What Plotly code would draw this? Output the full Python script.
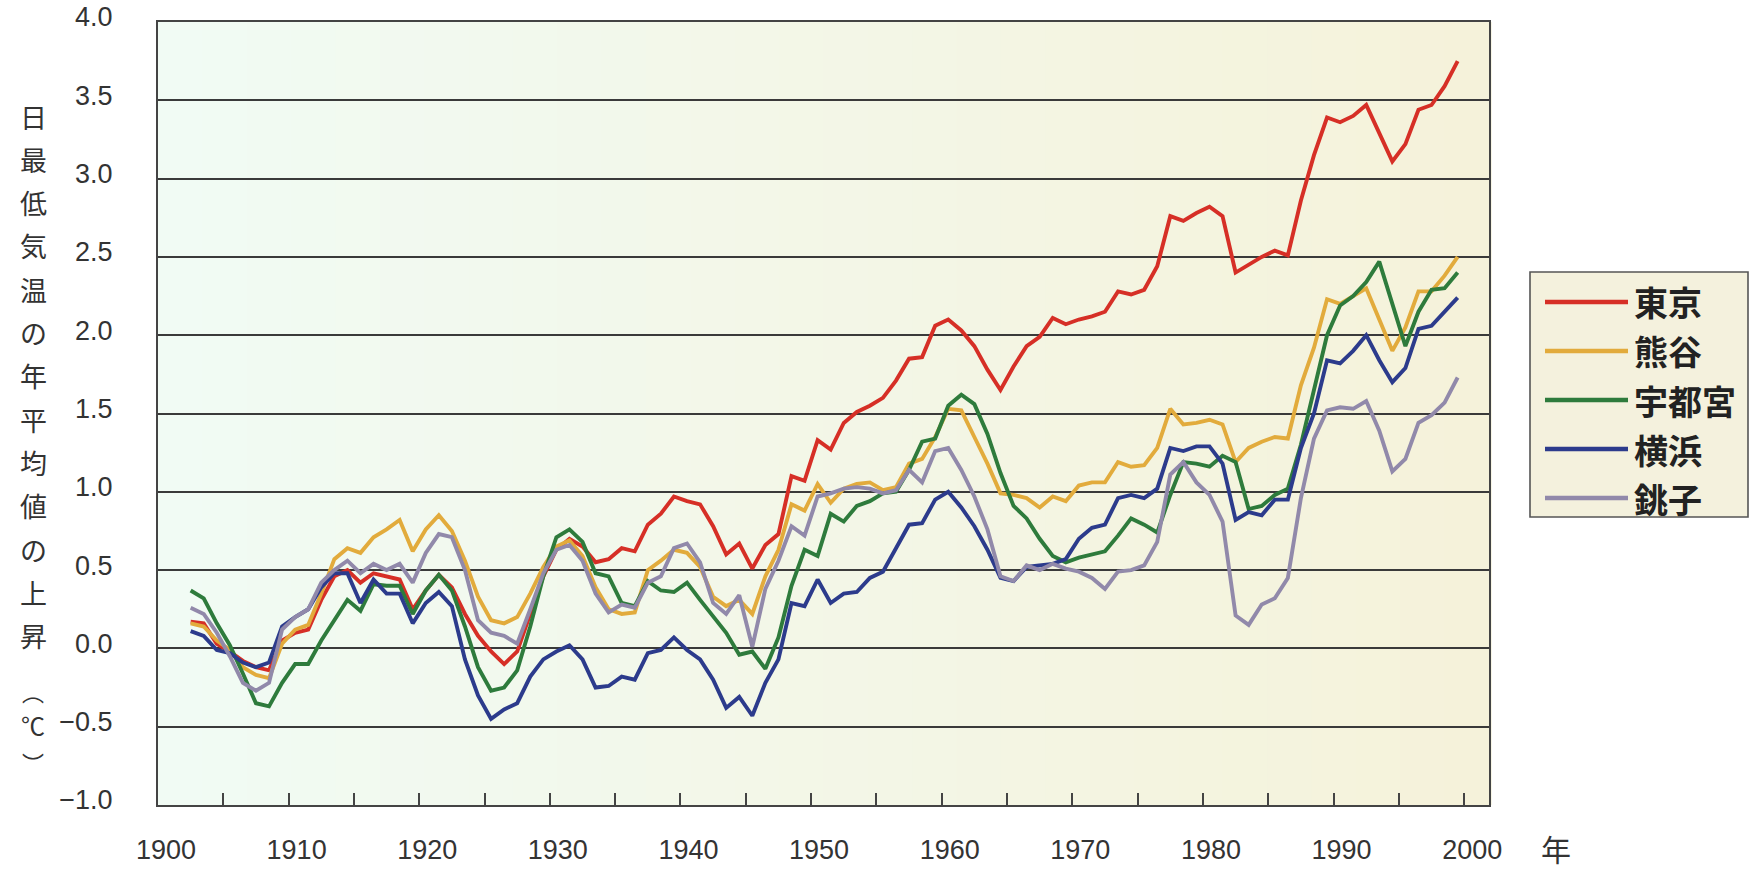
import plotly.graph_objects as go

# ---------------- data (5-year running means, deg C anomaly) ----------------
years = list(range(1902, 2000))

tokyo = [0.17, 0.16, 0.03, -0.02, -0.08, -0.12, -0.14, 0.05,
         0.10, 0.12, 0.31, 0.46, 0.50, 0.42, 0.48, 0.46, 0.44, 0.25,
         0.37, 0.47, 0.39, 0.22, 0.08, -0.02, -0.10, -0.02, 0.22, 0.46,
         0.63, 0.70, 0.65, 0.55, 0.57, 0.64, 0.62, 0.79, 0.86, 0.97,
         0.94, 0.92, 0.78, 0.60, 0.67, 0.51, 0.66, 0.73, 1.10, 1.07,
         1.33, 1.27, 1.44, 1.51, 1.55, 1.60, 1.71, 1.85, 1.86, 2.06,
         2.10, 2.03, 1.93, 1.78, 1.65, 1.80, 1.93, 1.99, 2.11, 2.07,
         2.10, 2.12, 2.15, 2.28, 2.26, 2.29, 2.44, 2.76, 2.73, 2.78,
         2.82, 2.76, 2.40, 2.45, 2.50, 2.54, 2.51, 2.86, 3.15, 3.39,
         3.36, 3.40, 3.47, 3.29, 3.11, 3.22, 3.44, 3.47, 3.59, 3.75]

kumagaya = [0.16, 0.14, 0.05, -0.01, -0.12, -0.17, -0.19, 0.03,
            0.12, 0.15, 0.35, 0.57, 0.64, 0.61, 0.71, 0.76, 0.82, 0.62,
            0.76, 0.85, 0.75, 0.56, 0.33, 0.18, 0.16, 0.20, 0.35, 0.52,
            0.65, 0.69, 0.59, 0.39, 0.25, 0.22, 0.23, 0.50, 0.56, 0.63,
            0.61, 0.52, 0.33, 0.27, 0.31, 0.22, 0.46, 0.63, 0.92, 0.88,
            1.05, 0.93, 1.02, 1.05, 1.06, 1.01, 1.03, 1.18, 1.21, 1.35,
            1.53, 1.52, 1.35, 1.18, 0.99, 0.98, 0.96, 0.90, 0.97, 0.94,
            1.04, 1.06, 1.06, 1.19, 1.16, 1.17, 1.28, 1.53, 1.43, 1.44,
            1.46, 1.43, 1.19, 1.28, 1.32, 1.35, 1.34, 1.68, 1.92, 2.23,
            2.20, 2.25, 2.30, 2.10, 1.90, 2.05, 2.28, 2.28, 2.38, 2.50]

utsunomiya = [0.37, 0.32, 0.16, 0.02, -0.16, -0.35, -0.37, -0.22,
              -0.10, -0.10, 0.05, 0.18, 0.31, 0.24, 0.41, 0.40, 0.40, 0.22,
              0.37, 0.47, 0.37, 0.14, -0.12, -0.27, -0.25, -0.14, 0.14, 0.46,
              0.71, 0.76, 0.68, 0.48, 0.46, 0.29, 0.27, 0.43, 0.37, 0.36,
              0.42, 0.31, 0.20, 0.10, -0.04, -0.02, -0.13, 0.07, 0.40, 0.63,
              0.59, 0.86, 0.81, 0.91, 0.94, 0.99, 1.00, 1.14, 1.32, 1.34,
              1.55, 1.62, 1.56, 1.37, 1.12, 0.91, 0.83, 0.70, 0.59, 0.55,
              0.58, 0.60, 0.62, 0.72, 0.83, 0.79, 0.74, 0.98, 1.19, 1.18,
              1.16, 1.23, 1.19, 0.89, 0.91, 0.98, 1.02, 1.30, 1.65, 2.00,
              2.19, 2.25, 2.34, 2.47, 2.20, 1.93, 2.15, 2.29, 2.30, 2.40]

yokohama = [0.11, 0.08, -0.01, -0.03, -0.09, -0.12, -0.09, 0.14,
            0.20, 0.25, 0.39, 0.48, 0.48, 0.29, 0.44, 0.35, 0.35, 0.16,
            0.29, 0.36, 0.27, -0.07, -0.30, -0.45, -0.39, -0.35, -0.18, -0.07,
            -0.02, 0.02, -0.07, -0.25, -0.24, -0.18, -0.20, -0.03, -0.01, 0.07,
            -0.01, -0.07, -0.20, -0.38, -0.31, -0.43, -0.22, -0.07, 0.29, 0.27,
            0.44, 0.29, 0.35, 0.36, 0.45, 0.49, 0.64, 0.79, 0.80, 0.95,
            1.00, 0.90, 0.78, 0.63, 0.45, 0.43, 0.52, 0.53, 0.54, 0.57,
            0.70, 0.77, 0.79, 0.96, 0.98, 0.96, 1.02, 1.28, 1.26, 1.29,
            1.29, 1.18, 0.82, 0.87, 0.85, 0.95, 0.95, 1.28, 1.50, 1.84,
            1.82, 1.90, 2.00, 1.84, 1.70, 1.79, 2.04, 2.06, 2.15, 2.24]

choshi = [0.26, 0.22, 0.10, -0.05, -0.22, -0.27, -0.22, 0.12,
          0.20, 0.25, 0.42, 0.50, 0.56, 0.48, 0.54, 0.50, 0.54, 0.42,
          0.61, 0.73, 0.71, 0.50, 0.18, 0.10, 0.08, 0.03, 0.25, 0.48,
          0.63, 0.66, 0.56, 0.35, 0.23, 0.28, 0.26, 0.42, 0.46, 0.64,
          0.67, 0.55, 0.29, 0.22, 0.34, 0.01, 0.38, 0.56, 0.78, 0.72,
          0.97, 0.99, 1.02, 1.03, 1.02, 0.99, 1.01, 1.14, 1.06, 1.26,
          1.28, 1.14, 0.97, 0.76, 0.46, 0.43, 0.53, 0.50, 0.54, 0.51,
          0.49, 0.45, 0.38, 0.49, 0.50, 0.53, 0.68, 1.11, 1.19, 1.06,
          0.98, 0.81, 0.21, 0.15, 0.28, 0.32, 0.45, 0.96, 1.34, 1.52,
          1.54, 1.53, 1.58, 1.39, 1.13, 1.21, 1.44, 1.49, 1.57, 1.73]

station_names = ["東京", "熊谷", "宇都宮", "横浜", "銚子"]
series = [tokyo, kumagaya, utsunomiya, yokohama, choshi]
line_colors = ["#d62f26", "#e2ab3c", "#2e7b3c", "#2c3b8c", "#9189aa"]

y_title = ["日", "最", "低", "気", "温", "の", "年", "平", "均", "値", "の", "上", "昇", "︵", "℃", "︶"]
x_unit = "年"

# ---------------- layout geometry (pixels) ----------------
W, H = 1750, 872
L, R, T, B = 158, 1489, 22, 805


def px_x(px):
    return (px - L) / (R - L)


def px_y(py):
    return (B - py) / (B - T)


fig = go.Figure()

# data plotted at mid-year
xs = [yr + 0.5 for yr in years]
for name, vals, col in zip(station_names, series, line_colors):
    fig.add_trace(go.Scatter(x=xs, y=vals, mode="lines", name=name,
                             line=dict(color=col, width=3.9),
                             showlegend=False, hoverinfo="x+y+name"))

shapes = []
# background gradient of plot area (mint on the left -> beige on the right)
c0 = (241, 251, 244)
c1 = (245, 242, 218)
n = 30
for i in range(n):
    t = i / (n - 1)
    col = tuple(int(round(c0[k] + (c1[k] - c0[k]) * t)) for k in range(3))
    shapes.append(dict(type="rect", xref="paper", yref="paper",
                       x0=i / n, x1=(i + 1) / n + 0.002, y0=0, y1=1,
                       fillcolor="rgb(%d,%d,%d)" % col, line=dict(width=0),
                       layer="below"))

# manual legend box
box_l, box_r, box_t, box_b = 1530, 1748, 272, 517
shapes.append(dict(type="rect", xref="paper", yref="paper",
                   x0=px_x(box_l), x1=px_x(box_r), y0=px_y(box_b), y1=px_y(box_t),
                   fillcolor="#f4f1dd", line=dict(color="#555555", width=1.6),
                   layer="above"))
annotations = []
row_y = [302, 351, 400, 449, 498]
for name, col, ry in zip(station_names, line_colors, row_y):
    shapes.append(dict(type="line", xref="paper", yref="paper",
                       x0=px_x(1545), x1=px_x(1628), y0=px_y(ry), y1=px_y(ry),
                       line=dict(color=col, width=4.5), layer="above"))
    annotations.append(dict(text=name, xref="paper", yref="paper",
                            x=px_x(1632), y=px_y(ry), xanchor="left", yanchor="middle",
                            showarrow=False,
                            font=dict(family="Noto Sans CJK JP", size=34, color="#222222",
                                      weight="bold")))

# vertical y-axis title, one character per row
title_y = [116 + 43.3 * i for i in range(13)] + [691, 724, 762]
title_size = [27] * 13 + [22, 24, 22]
for ch, ty, fs in zip(y_title, title_y, title_size):
    annotations.append(dict(text=ch, xref="paper", yref="paper",
                            x=px_x(33), y=px_y(ty),
                            xanchor="center", yanchor="middle", showarrow=False,
                            font=dict(family="Noto Sans CJK JP", size=fs, color="#333333")))

# unit label for x axis
annotations.append(dict(text=x_unit, xref="paper", yref="paper",
                        x=px_x(1556), y=px_y(848), xanchor="center", yanchor="middle",
                        showarrow=False,
                        font=dict(family="Noto Sans CJK JP", size=30, color="#333333")))

fig.update_layout(
    width=W, height=H,
    margin=dict(l=L, r=W - R, t=T, b=H - B, autoexpand=False),
    paper_bgcolor="white",
    plot_bgcolor="#f3f6e4",
    shapes=shapes,
    annotations=annotations,
    showlegend=False,
    font=dict(family="Liberation Sans", color="#333333"),
)

fig.update_xaxes(
    range=[1900, 2001.9], tick0=1900, dtick=10,
    ticks="inside", ticklen=12, tickwidth=1.5, tickcolor="#444444",
    minor=dict(tick0=1900, dtick=5, ticks="inside", ticklen=12, tickwidth=1.5,
               tickcolor="#444444", showgrid=False),
    showgrid=False, zeroline=False,
    showline=True, linecolor="#444444", linewidth=2, mirror=True,
    tickfont=dict(family="Liberation Sans", size=27, color="#333333"),
    ticklabelstandoff=20, ticklabelshift=8,
)

fig.update_yaxes(
    range=[-1, 4], tick0=0, dtick=0.5, tickformat=".1f",
    ticks="", showgrid=True, gridcolor="#3a3a3a", gridwidth=1.6,
    zeroline=False,
    showline=True, linecolor="#444444", linewidth=2, mirror=True,
    tickfont=dict(family="Liberation Sans", size=27, color="#333333"),
    ticklabelstandoff=38, ticklabelshift=-5,
)

fig.write_html("out.html", config={"displayModeBar": False},
               post_script="document.body.style.margin='0';")
